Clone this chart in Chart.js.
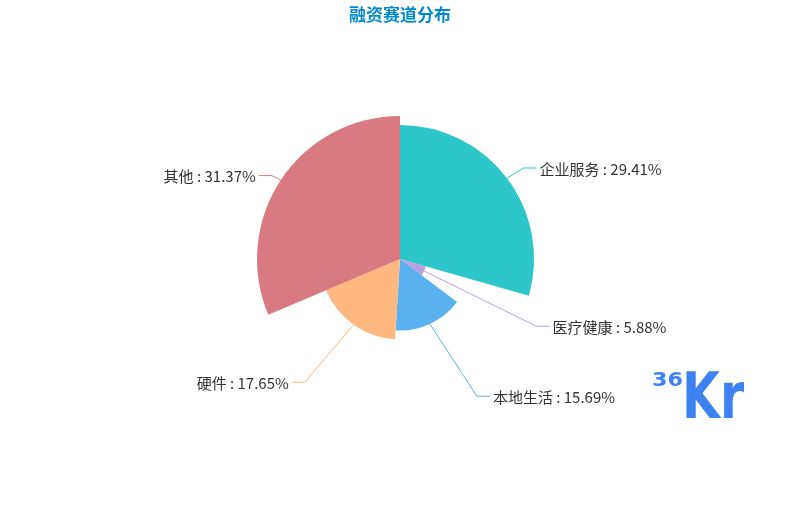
<!DOCTYPE html>
<html>
<head>
<meta charset="utf-8">
<title>融资赛道分布</title>
<script src="https://cdn.jsdelivr.net/npm/chart.js@4/dist/chart.umd.min.js"></script>
<style>
    html, body { margin: 0; padding: 0; background: #fff; }
    #wrap { width: 800px; height: 517px; position: relative; }
</style>
</head>
<body>
<div id="wrap"><canvas id="roseChart"></canvas></div>
<script>
/* 融资赛道分布 — rose chart, angle and radius both follow the value */

const categories = ['企业服务', '医疗健康', '本地生活', '硬件', '其他'];
const dealCounts = [15, 3, 8, 9, 16];
const sliceColors = ['#2ec7c9', '#b6a2de', '#5ab1ef', '#ffb980', '#d87a80'];

(function () {
    const total = dealCounts.reduce((a, b) => a + b, 0);
    const maxValue = Math.max(...dealCounts);
    const FONT = '"Noto Sans CJK SC", "Noto Sans", sans-serif';

    const pct = (v) => (v / total * 100).toFixed(2);

    // leader lines + labels, laid out roughly like echarts pie labels
    const roseLabels = {
        id: 'roseLabels',
        afterDatasetsDraw(chart) {
            const ctx = chart.ctx;
            const scale = chart.scales.r;
            const cx = scale.xCenter;
            const cy = scale.yCenter;
            const rMax = scale.drawingArea;
            const len = 8, len2 = 13;
            const rText = rMax + len + len2;
            const meta = chart.getDatasetMeta(0);

            ctx.save();
            ctx.font = '15px ' + FONT;
            ctx.textBaseline = 'middle';
            meta.data.forEach((arc, i) => {
                const mid = (arc.startAngle + arc.endAngle) / 2;
                const ux = Math.cos(mid), uy = Math.sin(mid);
                const side = ux >= 0 ? 1 : -1;
                const x1 = cx + arc.outerRadius * ux;
                const y1 = cy + arc.outerRadius * uy;
                const y2 = cy + (rMax + len) * uy;
                const dy = Math.abs(y2 - cy);
                const x3 = cx + side * Math.sqrt(Math.max(rText * rText - dy * dy, 0));
                const x2 = x3 - side * len2;

                ctx.strokeStyle = sliceColors[i];
                ctx.lineWidth = 1;
                ctx.beginPath();
                ctx.moveTo(x1, y1);
                ctx.lineTo(x2, y2);
                ctx.lineTo(x3, y2);
                ctx.stroke();

                ctx.fillStyle = '#333';
                ctx.textAlign = side > 0 ? 'left' : 'right';
                ctx.fillText(categories[i] + ' : ' + pct(dealCounts[i]) + '%', x3 + side * 3, y2 + 1);
            });
            ctx.restore();
        },
    };

    // 36Kr watermark, bottom right
    const watermark = {
        id: 'watermark',
        afterDraw(chart) {
            const ctx = chart.ctx;
            ctx.save();
            ctx.fillStyle = '#3d82f0';
            ctx.textBaseline = 'alphabetic';
            ctx.textAlign = 'left';
            ctx.font = 'bold 19px "DejaVu Sans Condensed", sans-serif';
            ctx.save();
            ctx.translate(652, 386);
            ctx.scale(1.3, 1);
            ctx.fillText('36', 0, 0);
            ctx.restore();
            ctx.font = 'bold 64px "DejaVu Sans Condensed", sans-serif';
            ctx.save();
            ctx.translate(682, 418);
            ctx.scale(0.85, 1);
            ctx.fillText('Kr', 0, 0);
            ctx.restore();
            ctx.restore();
        },
    };

    new Chart(document.getElementById('roseChart'), {
        type: 'polarArea',
        data: {
            labels: categories,
            datasets: [{
                data: dealCounts,
                angle: dealCounts.map((v) => v / total * 360),
                backgroundColor: sliceColors,
                borderWidth: 0,
            }],
        },
        options: {
            responsive: true,
            maintainAspectRatio: false,
            animation: false,
            layout: { padding: { top: 0, bottom: 115, left: 0, right: 0 } },
            plugins: {
                legend: { display: false },
                tooltip: { enabled: false },
                title: {
                    display: true,
                    text: '融资赛道分布',
                    color: '#008acd',
                    font: { family: FONT, size: 17, weight: 'bold', lineHeight: 1.2 },
                    padding: { top: 4, bottom: 91.6 },
                },
            },
            scales: {
                r: {
                    min: 0,
                    max: maxValue,
                    ticks: { display: false },
                    grid: { display: false },
                    angleLines: { display: false },
                    pointLabels: { display: false },
                },
            },
        },
        plugins: [roseLabels, watermark],
    });
})();
</script>
</body>
</html>
